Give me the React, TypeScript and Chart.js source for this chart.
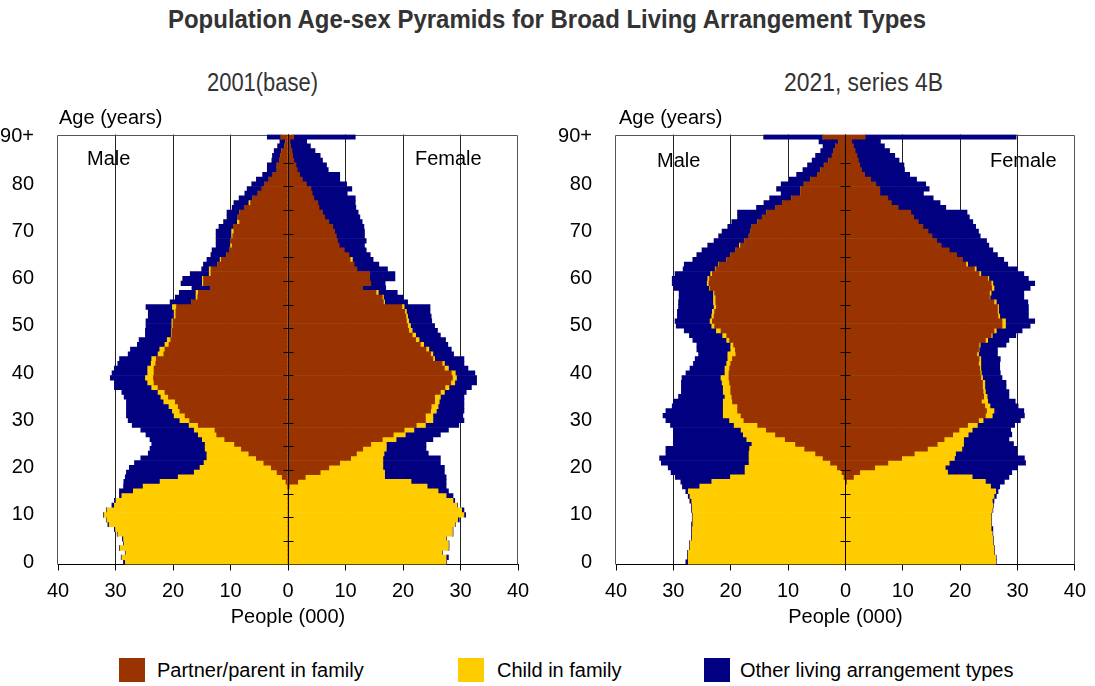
import React, { useEffect, useLayoutEffect, useRef } from "react";
import { Chart, registerables } from "chart.js";

Chart.register(...registerables);

const FONT = "'Liberation Sans', Arial, Helvetica, sans-serif";
const C_PARTNER = "#993300";
const C_CHILD = "#FFCC00";
const C_OTHER = "#000080";

const TITLE = "Population Age-sex Pyramids for Broad Living Arrangement Types";
const SUBTITLE_LEFT = "2001(base)";
const SUBTITLE_RIGHT = "2021, series 4B";
const SERIES = ["Partner/parent in family", "Child in family", "Other living arrangement types"];

// single years of age 0..89 and 90+
const AGE_LABELS = Array.from({ length: 91 }, (_, i) => (i === 90 ? "90+" : String(i)));
const AXIS_TICK_AGES = [5, 10, 15, 20, 25, 30, 35, 40, 45, 50, 55, 60, 65, 70, 75, 80, 85];
const X_MIN = -40;
const X_MAX = 40;

// ---------- 2001 (base), thousands, ages 0..90+ ----------
const M2001_PARTNER = [
  0, 0, 0, 0, 0, 0, 0, 0, 0, 0, 0, 0, 0, 0, 0, 0, 0.1, 0.35, 1.0, 1.9,
  2.9, 4.2, 5.5, 6.8, 8.1, 9.3, 11.0, 12.4, 12.7, 15.6, 17.1, 17.9, 18.8, 19.1, 19.6, 20.8, 21.4, 22.6, 23.3, 23.4,
  23.3, 23.3, 23.0, 22.9, 21.6, 21.4, 20.7, 20.4, 20.2, 20.2, 20.0, 20.0, 19.5, 19.5, 19.4, 16.8, 15.7, 15.6, 13.4, 14.7,
  14.7, 13.4, 13.4, 12.2, 11.6, 10.7, 10.2, 9.7, 10.0, 9.6, 9.4, 9.5, 8.4, 8.7, 8.4, 7.6, 6.5, 6.1, 5.2, 4.5,
  4.0, 3.3, 2.6, 1.9, 1.9, 1.5, 1.3, 1.1, 0.6, 0.4, 1.2,
];
const M2001_CHILD = [
  28.3, 28.9, 28.2, 29.2, 28.5, 28.6, 29.6, 30.0, 31.1, 31.5, 32.0, 31.5, 30.2, 29.9, 28.9, 26.9, 25.1, 21.9, 18.1, 14.4,
  12.4, 10.4, 8.6, 7.3, 6.3, 5.1, 3.9, 3.2, 3.6, 1.6, 1.7, 1.9, 1.3, 1.6, 2.0, 1.3, 1.2, 1.1, 1.1, 1.4,
  1.1, 1.1, 0.8, 0.8, 1.0, 0.9, 0.7, 0.6, 0.1, 0.1, 0.2, 0.2, 0.3, 0.3, 0.7, 0, 0.3, 0.4, 0, 0.2,
  0.2, 0.3, 0.3, 0, 0.2, 0, 0, 0.3, 0, 0.2, 0.4, 0, 0.4, 0, 0, 0, 0.3, 0, 0, 0,
  0, 0, 0, 0, 0, 0, 0, 0, 0, 0, 0,
];
const M2001_OTHER = [
  0.3, 0.1, 0.1, 0.1, 0.1, 0.2, 0.1, 0.2, 0.2, 0.1, 0.1, 0.1, 0.4, 0.3, 0.4, 2.4, 3.4, 6.3, 9.2, 11.8,
  12.3, 12.1, 11.5, 10.2, 9.6, 9.3, 9.1, 9.1, 9.3, 9.9, 9.0, 8.3, 8.0, 7.4, 6.5, 6.4, 6.3, 6.5, 5.8, 6.1,
  6.2, 5.8, 5.8, 5.6, 5.2, 5.1, 4.8, 4.9, 4.5, 4.5, 4.5, 4.5, 4.5, 4.5, 4.6, 3.7, 3.6, 2.9, 3.3, 3.7,
  3.4, 3.3, 1.3, 2.5, 2.3, 2.7, 3.0, 2.5, 2.5, 2.7, 2.7, 2.5, 2.4, 1.9, 2.2, 2.1, 2.6, 2.4, 2.3, 2.6,
  2.3, 2.2, 1.8, 1.7, 1.7, 1.3, 1.4, 1.3, 1.2, 1.0, 2.4,
];
const F2001_PARTNER = [
  0, 0, 0, 0, 0, 0, 0, 0, 0, 0, 0, 0, 0, 0, 0, 0, 0.2, 1.7, 3.0, 5.6,
  7.1, 9.0, 10.9, 11.9, 13.0, 14.4, 16.4, 18.3, 20.2, 22.3, 23.9, 23.9, 24.8, 24.9, 25.5, 25.5, 26.5, 27.3, 28.3, 28.6,
  28.4, 27.2, 26.8, 25.2, 24.8, 24.0, 23.0, 22.2, 21.6, 21.0, 20.8, 20.6, 20.5, 20.3, 19.8, 16.6, 16.4, 15.3, 13.0, 14.4,
  14.2, 14.2, 12.0, 11.5, 10.8, 10.6, 9.8, 8.9, 8.6, 8.4, 8.1, 7.8, 7.1, 6.4, 6.0, 5.4, 5.2, 4.5, 4.2, 4.0,
  3.2, 2.5, 2.0, 1.6, 1.4, 1.0, 0.8, 0.7, 0.45, 0.35, 1.0,
];
const F2001_CHILD = [
  27.5, 27.5, 26.8, 27.9, 27.9, 27.5, 28.6, 28.6, 29.0, 29.5, 30.6, 30.2, 29.4, 28.7, 27.5, 26.1, 24.0, 19.7, 13.8, 11.2,
  9.4, 7.5, 5.6, 4.8, 4.1, 2.7, 2.4, 2.1, 1.7, 1.6, 1.3, 1.3, 1.0, 1.2, 0.8, 1.0, 0.7, 0.7, 0.7, 0.7,
  0.7, 0.7, 0.4, 0.3, 0.4, 0.5, 0.6, 0.6, 0.6, 0.6, 0.5, 0.4, 0.3, 0.3, 0.4, 0.2, 0.2, 0.4, 0, 0,
  0, 0, 0, 0, 0.4, 0, 0, 0, 0, 0, 0, 0, 0, 0, 0, 0, 0, 0, 0, 0,
  0, 0, 0, 0, 0, 0, 0, 0, 0, 0, 0,
];
const F2001_OTHER = [
  0.1, 0.4, 0.1, 0.1, 0.1, 0.1, 0.1, 0.1, 0.1, 0.3, 0.3, 0.4, 0.1, 0.3, 1.2, 1.8, 3.3, 6.1, 10.7, 10.4,
  10.7, 10.0, 10.0, 7.7, 6.9, 6.9, 6.4, 6.1, 6.0, 5.8, 5.4, 5.2, 4.8, 4.5, 4.3, 4.1, 3.8, 3.9, 3.8, 3.5,
  3.4, 3.4, 3.4, 5.1, 3.6, 3.9, 4.2, 4.6, 4.3, 4.4, 4.2, 4.0, 4.1, 4.1, 4.5, 4.0, 3.4, 3.3, 4.0, 2.5,
  4.4, 4.4, 5.3, 4.3, 3.6, 3.7, 3.8, 4.4, 5.0, 4.9, 5.2, 5.4, 5.8, 6.1, 6.2, 6.4, 6.5, 7.2, 6.1, 7.1,
  7.0, 6.5, 7.0, 5.4, 5.3, 5.0, 4.8, 4.0, 3.45, 2.9, 10.7,
];

// ---------- 2021, series 4B, thousands, ages 0..90+ ----------
const M2021_PARTNER = [
  0, 0, 0, 0, 0, 0, 0, 0, 0, 0, 0, 0, 0, 0, 0, 0, 0, 0, 0.25, 0.6,
  1.4, 2.6, 3.9, 5.2, 7.1, 8.7, 10.5, 12.2, 13.8, 15.3, 17.7, 18.2, 18.8, 18.8, 19.7, 19.8, 20.0, 20.0, 20.2, 20.3,
  20.3, 20.2, 20.0, 19.7, 19.1, 19.2, 19.5, 20.2, 20.7, 21.7, 22.8, 23.2, 22.9, 22.8, 22.5, 22.6, 22.6, 22.8, 23.6, 23.8,
  23.7, 23.2, 22.6, 22.0, 20.7, 20.0, 19.1, 18.3, 17.6, 16.8, 16.5, 16.3, 15.3, 14.5, 13.7, 12.2, 11.0, 9.4, 7.8, 7.8,
  7.2, 6.1, 4.9, 4.3, 3.7, 2.9, 2.3, 2.0, 1.75, 1.15, 3.9,
];
const M2021_CHILD = [
  27.4, 27.4, 27.4, 27.1, 27.1, 26.7, 26.7, 26.7, 26.6, 26.6, 26.6, 26.7, 26.7, 26.8, 27.1, 27.4, 25.4, 23.3, 19.8, 16.9,
  16.1, 14.2, 12.9, 11.6, 9.6, 7.6, 6.7, 5.6, 4.4, 4.1, 2.5, 3.1, 2.5, 2.5, 1.6, 1.2, 1.3, 1.3, 1.3, 1.4,
  0.7, 0.8, 0.7, 0.8, 1.4, 0.8, 0.5, 0.5, 0.7, 0.8, 0.5, 0.4, 0.4, 0.4, 0.4, 0.4, 0.4, 0.2, 0.1, 0.3,
  0.3, 0.3, 0.1, 0.1, 0, 0, 0, 0.2, 0, 0, 0, 0, 0, 0, 0, 0, 0, 0, 0, 0,
  0, 0, 0, 0, 0, 0, 0, 0, 0, 0, 0,
];
const M2021_OTHER = [
  0.4, 0.1, 0.1, 0.1, 0.1, 0.1, 0.1, 0.1, 0.2, 0.1, 0.1, 0.1, 0.1, 0.3, 0.3, 0.4, 3.0, 5.4, 9.6, 12.9,
  13.4, 15.3, 15.6, 14.5, 14.6, 13.7, 12.8, 12.2, 11.8, 11.1, 11.1, 10.5, 10.0, 8.9, 8.7, 8.1, 7.3, 7.3, 7.1, 6.8,
  6.8, 6.1, 5.8, 5.7, 5.1, 5.9, 5.9, 5.9, 5.8, 5.6, 6.2, 6.1, 6.0, 6.1, 6.2, 6.1, 6.0, 6.0, 6.2, 6.1,
  6.2, 6.2, 5.6, 6.0, 5.9, 5.9, 5.9, 5.5, 5.3, 5.3, 5.0, 4.2, 4.5, 4.3, 5.1, 3.3, 3.2, 3.8, 3.4, 4.2,
  4.0, 3.7, 3.6, 3.1, 2.9, 2.9, 2.9, 2.3, 2.15, 3.45, 10.35,
];
const F2021_PARTNER = [
  0, 0, 0, 0, 0, 0, 0, 0, 0, 0, 0, 0, 0, 0, 0, 0, 0, 0.2, 1.4, 2.5,
  5.1, 7.4, 9.8, 12.0, 14.3, 16.0, 17.2, 18.7, 19.8, 21.3, 23.2, 24.4, 24.6, 24.3, 23.7, 24.1, 24.0, 23.9, 23.9, 23.6,
  23.5, 23.4, 23.2, 23.3, 22.9, 23.2, 23.3, 24.4, 25.4, 25.9, 27.3, 27.3, 26.6, 26.5, 26.5, 25.9, 25.1, 25.1, 25.5, 25.4,
  24.8, 23.3, 22.5, 21.0, 20.4, 19.4, 18.1, 16.7, 15.9, 15.1, 14.4, 13.5, 12.7, 11.9, 11.4, 9.2, 8.0, 7.4, 6.0, 6.0,
  5.3, 4.4, 3.35, 2.8, 2.5, 2.25, 2.0, 1.7, 1.4, 1.1, 3.45,
];
const F2021_CHILD = [
  26.2, 26.2, 25.9, 25.9, 25.7, 25.7, 25.6, 25.4, 25.4, 25.4, 25.4, 25.6, 25.7, 25.6, 25.9, 26.2, 25.3, 24.2, 20.7, 15.3,
  12.3, 10.7, 9.2, 7.2, 6.0, 4.6, 3.4, 2.7, 2.3, 1.7, 0.8, 1.2, 1.3, 0.9, 1.1, 0.6, 0.4, 0.4, 0.4, 0.3,
  0.2, 0.2, 0.4, 0.3, 0.3, 0.1, 0.2, 0.4, 0.2, 0.4, 0.6, 0.6, 0.3, 0.2, 0.2, 0.4, 0.1, 0.3, 0.4, 0.3,
  0.2, 0.3, 0.3, 0.3, 0, 0, 0, 0, 0, 0, 0, 0, 0, 0, 0, 0, 0, 0, 0, 0,
  0, 0, 0, 0, 0, 0, 0, 0, 0, 0, 0,
];
const F2021_OTHER = [
  0.1, 0.1, 0.1, 0.1, 0.1, 0.1, 0.1, 0.3, 0.1, 0.1, 0.1, 0.1, 0.1, 0.3, 0.4, 0.4, 1.6, 3.3, 6.4, 11.2,
  12.6, 13.3, 12.2, 10.7, 9.6, 8.7, 7.9, 7.6, 6.7, 6.5, 6.5, 5.6, 5.2, 4.9, 4.8, 3.8, 4.1, 3.7, 3.7, 3.4,
  3.3, 3.3, 3.3, 3.4, 3.3, 3.2, 4.5, 3.7, 4.1, 4.5, 4.3, 5.1, 5.0, 5.2, 5.2, 5.5, 5.9, 5.7, 6.3, 7.3,
  6.9, 7.5, 7.2, 7.0, 7.2, 7.1, 7.6, 8.3, 8.7, 8.4, 8.8, 9.2, 9.5, 9.7, 9.8, 8.3, 8.5, 7.9, 7.6, 8.6,
  8.7, 8.0, 7.85, 7.5, 7.7, 7.1, 6.6, 6.0, 5.4, 5.0, 26.3,
];

const framePlugin = {
  id: "pyramidFrame",
  beforeDatasetsDraw(chart: any) {
    const { ctx, chartArea: a } = chart;
    const l = Math.round(a.left) - 0.5;
    const r = Math.round(a.right) - 0.5;
    const t = Math.round(a.top) + 0.5;
    ctx.save();
    ctx.strokeStyle = "#555";
    ctx.lineWidth = 1;
    ctx.beginPath();
    ctx.moveTo(l, a.bottom);
    ctx.lineTo(l, t);
    ctx.lineTo(r, t);
    ctx.lineTo(r, a.bottom);
    ctx.stroke();
    ctx.restore();
  },
  afterDatasetsDraw(chart: any) {
    const { ctx, chartArea: a, scales } = chart;
    const x0 = Math.round(scales.x.getPixelForValue(0)) + 0.5;
    ctx.save();
    ctx.strokeStyle = "#000";
    ctx.lineWidth = 1;
    ctx.beginPath();
    ctx.moveTo(x0, a.top);
    ctx.lineTo(x0, a.bottom);
    for (const age of AXIS_TICK_AGES) {
      const y = Math.round((scales.y.getPixelForValue(age) + scales.y.getPixelForValue(age - 1)) / 2) + 0.5;
      ctx.moveTo(x0 - 5, y);
      ctx.lineTo(x0 + 5, y);
    }
    ctx.stroke();
    ctx.restore();
  },
};

type PyramidProps = {
  male: number[][];
  female: number[][];
  left: number;
  top: number;
  width: number;
  height: number;
  padRight: number;
};

function Pyramid({ male, female, left, top, width, height, padRight }: PyramidProps) {
  const ref = useRef<HTMLCanvasElement>(null);
  useEffect(() => {
    const colors = [C_PARTNER, C_CHILD, C_OTHER];
    const mk = (i: number, values: number[], sign: number) => ({
      label: SERIES[i],
      data: values.map((v) => v * sign),
      backgroundColor: colors[i],
      borderWidth: 0,
      barPercentage: 1,
      categoryPercentage: 1,
      stack: "pop",
    });
    const chart = new Chart(ref.current as HTMLCanvasElement, {
      type: "bar",
      data: {
        labels: AGE_LABELS,
        datasets: [
          mk(0, male[0], -1),
          mk(1, male[1], -1),
          mk(2, male[2], -1),
          mk(0, female[0], 1),
          mk(1, female[1], 1),
          mk(2, female[2], 1),
        ],
      },
      options: {
        indexAxis: "y",
        animation: false,
        responsive: false,
        maintainAspectRatio: false,
        devicePixelRatio: 1,
        layout: { padding: { left: 0, right: padRight, top: 34.5, bottom: 0 } },
        plugins: { legend: { display: false }, tooltip: { enabled: false }, title: { display: false } },
        scales: {
          x: {
            type: "linear",
            min: X_MIN,
            max: X_MAX,
            stacked: true,
            afterFit: (s: any) => {
              s.height = 75.5;
            },
            ticks: {
              stepSize: 10,
              padding: 9,
              color: "#000",
              font: { family: FONT, size: 20 },
              callback: (v: any) => String(Math.abs(Number(v))),
            },
            grid: {
              display: true,
              drawOnChartArea: true,
              drawTicks: true,
              tickLength: 6,
              tickColor: "#000",
              lineWidth: 1,
              color: (c: any) =>
                c.tick && Math.abs(c.tick.value) === 40 ? "rgba(0,0,0,0)" : "#222",
            },
            border: { display: true, color: "#000", width: 1 },
            title: {
              display: true,
              text: "People (000)",
              color: "#000",
              font: { family: FONT, size: 20 },
              padding: { top: 0, bottom: 11 },
            },
          },
          y: {
            type: "category",
            stacked: true,
            reverse: true,
            offset: true,
            afterFit: (s: any) => {
              s.width = 58;
            },
            grid: { display: false },
            border: { display: false },
            ticks: {
              autoSkip: false,
              padding: 16,
              color: "#000",
              font: { family: FONT, size: 20 },
              callback: (_v: any, i: number) => (i % 10 === 0 ? AGE_LABELS[i] : ""),
            },
          },
        },
      } as any,
      plugins: [framePlugin],
    });
    return () => chart.destroy();
  }, []);
  return (
    <canvas
      ref={ref}
      width={width}
      height={height}
      style={{ position: "absolute", left, top, width, height, display: "block" }}
    />
  );
}

function FitText({
  text, left, top, width, size, weight, color,
}: { text: string; left: number; top: number; width: number; size: number; weight: number; color: string }) {
  const ref = useRef<HTMLSpanElement>(null);
  useLayoutEffect(() => {
    const el = ref.current;
    if (!el) return;
    el.style.transform = "none";
    const w = el.getBoundingClientRect().width;
    if (w > 0) el.style.transform = `scaleX(${width / w})`;
  }, [text, width]);
  return (
    <span
      ref={ref}
      style={{
        position: "absolute", left, top, fontFamily: FONT, fontSize: size, lineHeight: `${size}px`,
        fontWeight: weight, color, whiteSpace: "nowrap", transformOrigin: "0 0",
      }}
    >
      {text}
    </span>
  );
}

function Label({ text, left, top, size = 20, color = "#000" }: { text: string; left: number; top: number; size?: number; color?: string }) {
  return (
    <span
      style={{
        position: "absolute", left, top, fontFamily: FONT, fontSize: size, lineHeight: `${size}px`,
        color, whiteSpace: "nowrap",
      }}
    >
      {text}
    </span>
  );
}

function Swatch({ left, top, color }: { left: number; top: number; color: string }) {
  return <div style={{ position: "absolute", left, top, width: 26, height: 24, background: color }} />;
}

export default function App() {
  return (
    <div style={{ position: "absolute", left: 0, top: 0, width: 1095, height: 686, background: "#fff", overflow: "hidden" }}>
      <FitText text={TITLE} left={168} top={6} width={758} size={26.5} weight={700} color="#333" />
      <FitText text={SUBTITLE_LEFT} left={207} top={69} width={111} size={26.5} weight={400} color="#333" />
      <FitText text={SUBTITLE_RIGHT} left={784} top={69} width={159} size={26.5} weight={400} color="#333" />

      <Pyramid
        male={[M2001_PARTNER, M2001_CHILD, M2001_OTHER]}
        female={[F2001_PARTNER, F2001_CHILD, F2001_OTHER]}
        left={0} top={100} width={545} height={540} padRight={27}
      />
      <Pyramid
        male={[M2021_PARTNER, M2021_CHILD, M2021_OTHER]}
        female={[F2021_PARTNER, F2021_CHILD, F2021_OTHER]}
        left={558} top={100} width={537} height={540} padRight={19}
      />

      <Label text="Age (years)" left={59} top={107} />
      <Label text="Age (years)" left={619} top={107} />
      <Label text="Male" left={87} top={148} />
      <Label text="Female" left={415} top={148} />
      <Label text="Male" left={657} top={150} />
      <Label text="Female" left={990} top={150} />

      <Swatch left={119} top={658} color={C_PARTNER} />
      <Label text={SERIES[0]} left={157} top={660} />
      <Swatch left={458} top={658} color={C_CHILD} />
      <Label text={SERIES[1]} left={497} top={660} />
      <Swatch left={704} top={658} color={C_OTHER} />
      <Label text={SERIES[2]} left={740} top={660} />
    </div>
  );
}
